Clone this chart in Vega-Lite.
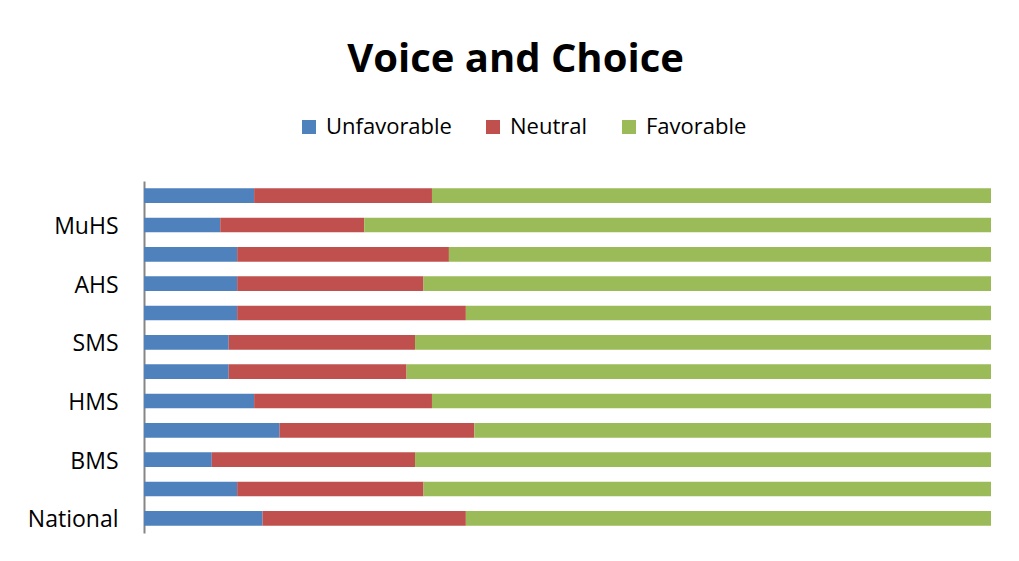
{
  "$schema": "https://vega.github.io/schema/vega-lite/v6.json",
  "width": 847,
  "height": 352,
  "autosize": {"type": "none"},
  "padding": {"left": 144, "top": 181, "right": 28, "bottom": 28},
  "background": "white",
  "title": {
    "text": "Voice and Choice",
    "font": "Open Sans",
    "fontSize": 40,
    "fontWeight": "bold",
    "color": "#000000",
    "anchor": "middle",
    "dx": -52,
    "offset": 36
  },
  "data": {
    "values": [
      {"school": "unlabeled 6", "status": "Unfavorable", "o": 1, "value": 13},
      {"school": "unlabeled 6", "status": "Neutral", "o": 2, "value": 21},
      {"school": "unlabeled 6", "status": "Favorable", "o": 3, "value": 66},
      {"school": "MuHS", "status": "Unfavorable", "o": 1, "value": 9},
      {"school": "MuHS", "status": "Neutral", "o": 2, "value": 17},
      {"school": "MuHS", "status": "Favorable", "o": 3, "value": 74},
      {"school": "unlabeled 5", "status": "Unfavorable", "o": 1, "value": 11},
      {"school": "unlabeled 5", "status": "Neutral", "o": 2, "value": 25},
      {"school": "unlabeled 5", "status": "Favorable", "o": 3, "value": 64},
      {"school": "AHS", "status": "Unfavorable", "o": 1, "value": 11},
      {"school": "AHS", "status": "Neutral", "o": 2, "value": 22},
      {"school": "AHS", "status": "Favorable", "o": 3, "value": 67},
      {"school": "unlabeled 4", "status": "Unfavorable", "o": 1, "value": 11},
      {"school": "unlabeled 4", "status": "Neutral", "o": 2, "value": 27},
      {"school": "unlabeled 4", "status": "Favorable", "o": 3, "value": 62},
      {"school": "SMS", "status": "Unfavorable", "o": 1, "value": 10},
      {"school": "SMS", "status": "Neutral", "o": 2, "value": 22},
      {"school": "SMS", "status": "Favorable", "o": 3, "value": 68},
      {"school": "unlabeled 3", "status": "Unfavorable", "o": 1, "value": 10},
      {"school": "unlabeled 3", "status": "Neutral", "o": 2, "value": 21},
      {"school": "unlabeled 3", "status": "Favorable", "o": 3, "value": 69},
      {"school": "HMS", "status": "Unfavorable", "o": 1, "value": 13},
      {"school": "HMS", "status": "Neutral", "o": 2, "value": 21},
      {"school": "HMS", "status": "Favorable", "o": 3, "value": 66},
      {"school": "unlabeled 2", "status": "Unfavorable", "o": 1, "value": 16},
      {"school": "unlabeled 2", "status": "Neutral", "o": 2, "value": 23},
      {"school": "unlabeled 2", "status": "Favorable", "o": 3, "value": 61},
      {"school": "BMS", "status": "Unfavorable", "o": 1, "value": 8},
      {"school": "BMS", "status": "Neutral", "o": 2, "value": 24},
      {"school": "BMS", "status": "Favorable", "o": 3, "value": 68},
      {"school": "unlabeled 1", "status": "Unfavorable", "o": 1, "value": 11},
      {"school": "unlabeled 1", "status": "Neutral", "o": 2, "value": 22},
      {"school": "unlabeled 1", "status": "Favorable", "o": 3, "value": 67},
      {"school": "National", "status": "Unfavorable", "o": 1, "value": 14},
      {"school": "National", "status": "Neutral", "o": 2, "value": 24},
      {"school": "National", "status": "Favorable", "o": 3, "value": 62}
    ]
  },
  "mark": {"type": "bar"},
  "encoding": {
    "y": {
      "field": "school",
      "type": "nominal",
      "sort": ["unlabeled 6", "MuHS", "unlabeled 5", "AHS", "unlabeled 4", "SMS", "unlabeled 3", "HMS", "unlabeled 2", "BMS", "unlabeled 1", "National"],
      "scale": {"paddingInner": 0.5, "paddingOuter": 0.25},
      "axis": {
        "title": null,
        "values": ["MuHS", "AHS", "SMS", "HMS", "BMS", "National"],
        "ticks": false,
        "domainColor": "#868686",
        "domainWidth": 2,
        "labelFont": "Open Sans",
        "labelFontSize": 23,
        "labelColor": "#000000",
        "labelPadding": 26,
        "labelBaseline": "middle",
        "labelOffset": 2
      }
    },
    "x": {
      "field": "value",
      "type": "quantitative",
      "stack": "normalize",
      "axis": null
    },
    "color": {
      "field": "status",
      "type": "nominal",
      "scale": {
        "domain": ["Unfavorable", "Neutral", "Favorable"],
        "range": ["#4F81BD", "#C0504D", "#9BBB59"]
      },
      "legend": {
        "title": null,
        "orient": "none",
        "direction": "horizontal",
        "legendX": 154,
        "legendY": -65,
        "symbolType": "square",
        "symbolSize": 196,
        "symbolStrokeWidth": 0,
        "labelFont": "Open Sans",
        "labelFontSize": 22,
        "labelColor": "#000000",
        "columnPadding": 30,
        "labelOffset": 6
      }
    },
    "order": {"field": "o", "type": "quantitative"}
  },
  "config": {"view": {"stroke": null}}
}
